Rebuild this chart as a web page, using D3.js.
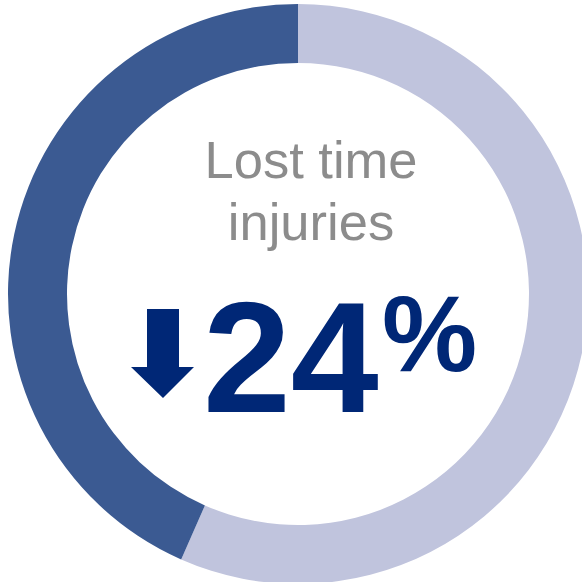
<!DOCTYPE html>
<html>
<head>
<meta charset="utf-8">
<script src="https://cdn.jsdelivr.net/npm/d3@7"></script>
<style>
  html, body { margin: 0; padding: 0; background: #ffffff; }
  svg { display: block; }
</style>
</head>
<body>
<div id="chart"></div>
<script>
// Data
const categories = ["Remaining", "Reduction share"];
const values = [56.6, 43.4];
const colors = ["#c0c4dd", "#3b5a92"];
const titleLines = ["Lost time", "injuries"];
const headline = "24";
const headlineUnit = "%";

const W = 582, H = 582;
const cx = 298, cy = 294, outerR = 290, innerR = 231;

const svg = d3.select("#chart").append("svg")
  .attr("width", W).attr("height", H);

const pie = d3.pie().sort(null).value(d => d)
  .startAngle(0).endAngle(2 * Math.PI);
const arc = d3.arc().innerRadius(innerR).outerRadius(outerR);

const g = svg.append("g").attr("transform", `translate(${cx},${cy})`);
g.selectAll("path.slice")
  .data(pie(values))
  .join("path")
  .attr("class", "slice")
  .attr("d", arc)
  .attr("fill", (d, i) => colors[i]);

// Title
const title = svg.append("text")
  .attr("font-family", "'Liberation Sans', Arial, sans-serif")
  .attr("font-size", 52.5)
  .attr("fill", "#8c8c8c")
  .attr("text-anchor", "middle");
title.selectAll("tspan")
  .data(titleLines)
  .join("tspan")
  .attr("x", 311)
  .attr("y", (d, i) => 178 + i * 62)
  .text(d => d);

// Headline number
svg.append("text")
  .attr("x", 203)
  .attr("y", 412)
  .attr("font-family", "'Liberation Sans', Arial, sans-serif")
  .attr("font-weight", "bold")
  .attr("font-size", 158)
  .attr("fill", "#002776")
  .text(headline);

svg.append("text")
  .attr("x", 382)
  .attr("y", 371)
  .attr("font-family", "'Liberation Sans', Arial, sans-serif")
  .attr("font-weight", "bold")
  .attr("font-size", 107)
  .attr("fill", "#002776")
  .text(headlineUnit);

// Down arrow icon
svg.append("path")
  .attr("d", "M147,309 L179,309 L179,367 L194,367 L163,398 L131,367 L147,367 Z")
  .attr("fill", "#002776");
</script>
</body>
</html>
